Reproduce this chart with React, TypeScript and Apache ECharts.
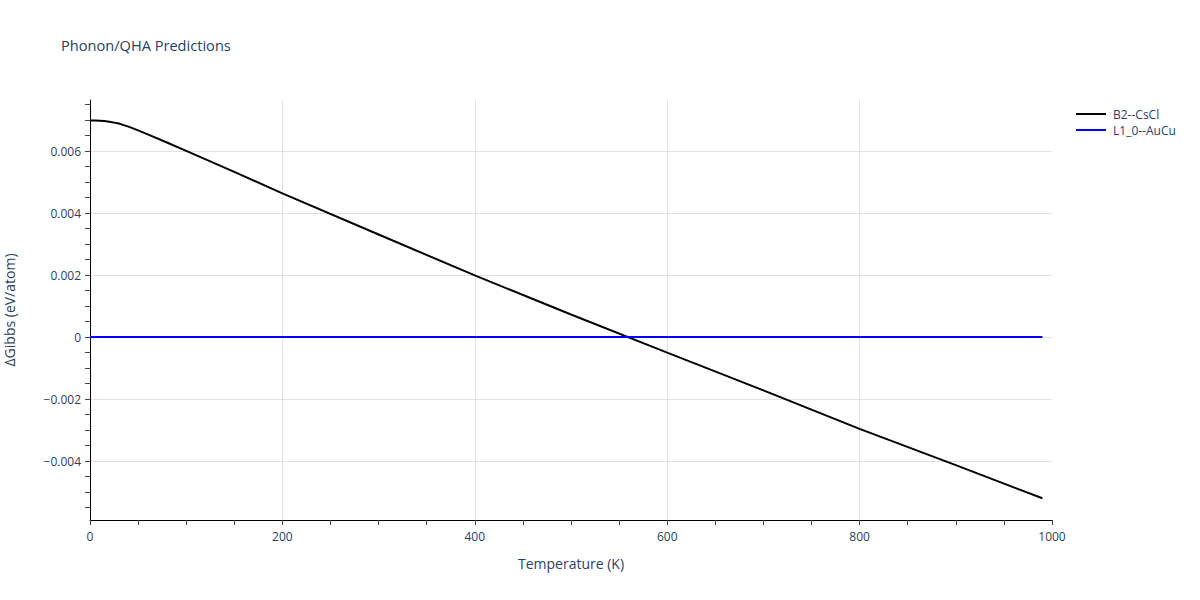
import React, { useEffect, useRef } from "react";
import * as echarts from "echarts";

const temperatures = [0, 5, 10, 15, 20, 25, 30, 35, 40, 50, 60, 80, 100, 150, 200, 300, 400, 500, 600, 700, 800, 900, 990];
const b2Values = [0.00699, 0.00699, 0.00698, 0.00697, 0.00695, 0.00692, 0.00689, 0.00684, 0.00679, 0.00667, 0.00654, 0.00628, 0.00601, 0.00533, 0.00464, 0.00331, 0.00199, 0.00073, -0.00050, -0.00172, -0.00296, -0.00413, -0.00520];
const l10Values = [0, 0, 0, 0, 0, 0, 0, 0, 0, 0, 0, 0, 0, 0, 0, 0, 0, 0, 0, 0, 0, 0, 0];
const seriesNames = ["B2--CsCl", "L1_0--AuCu"];
const yLabelValues = [-0.004, -0.002, 0, 0.002, 0.004, 0.006];
const yTickValues = [-0.0055, -0.005, -0.0045, -0.004, -0.0035, -0.003, -0.0025, -0.002, -0.0015, -0.001, -0.0005, 0, 0.0005, 0.001, 0.0015, 0.002, 0.0025, 0.003, 0.0035, 0.004, 0.0045, 0.005, 0.0055, 0.006, 0.0065, 0.007, 0.0075];
const yMin = -0.0059;
const yMax = 0.00765;

const textColor = "#2a3f5f";
const font = "'Open Sans', 'Noto Sans', sans-serif";

export default function App() {
  const ref = useRef<HTMLDivElement>(null);
  useEffect(() => {
    if (!ref.current) return;
    const chart = echarts.init(ref.current, null, { renderer: "svg" });
    const fmt = (v: number) => {
      if (Math.abs(v) < 1e-12) return "0";
      const s = Math.abs(v).toFixed(3);
      return v < 0 ? "\u2212" + s : s;
    };
    chart.setOption({
      animation: false,
      backgroundColor: "#ffffff",
      textStyle: { fontFamily: font },
      title: {
        text: "Phonon/QHA Predictions",
        left: 56,
        top: 32,
        textStyle: { fontFamily: font, fontSize: 14.6, fontWeight: "normal", color: textColor },
      },
      legend: {
        data: seriesNames,
        orient: "vertical",
        left: 1071,
        top: 103,
        icon: "rect",
        itemWidth: 30,
        itemHeight: 2,
        itemGap: 4,
        textStyle: { fontFamily: font, fontSize: 12, color: textColor, padding: [0, 0, 0, 2] },
      },
      grid: { left: 90, right: 148, top: 100, bottom: 80, containLabel: false, outerBoundsMode: "none" },
      xAxis: {
        type: "value",
        min: 0,
        max: 1000,
        interval: 200,
        name: "Temperature (K)",
        nameLocation: "middle",
        nameGap: 36,
        nameTextStyle: { fontFamily: font, fontSize: 14, color: textColor },
        axisLine: { show: true, onZero: false, lineStyle: { color: "#000", width: 1 } },
        axisTick: { show: true, inside: false, length: 5, lineStyle: { color: "#444" } },
        minorTick: { show: true, splitNumber: 4, length: 5, lineStyle: { color: "#444" } },
        axisLabel: { fontFamily: font, fontSize: 12, color: textColor, margin: 10, formatter: (v: number) => String(v) },
        splitLine: { show: true, showMinLine: false, showMaxLine: false, lineStyle: { color: "#e1e1e1", width: 1 } },
      },
      yAxis: [
        {
          type: "value",
          position: "left",
          min: yMin,
          max: yMax,
          name: "\u0394Gibbs (eV/atom)",
          nameLocation: "middle",
          nameGap: 74,
          nameTextStyle: { fontFamily: font, fontSize: 14, color: textColor },
          axisLine: { show: false, onZero: false },
          axisTick: { show: false, customValues: yLabelValues },
          axisLabel: { fontFamily: font, fontSize: 12, color: textColor, margin: 9, customValues: yLabelValues, formatter: fmt },
          splitLine: { show: true, showMinLine: true, showMaxLine: true, lineStyle: { color: "#e1e1e1", width: 1 } },
        },
        {
          type: "value",
          position: "left",
          offset: 0,
          min: yMin,
          max: yMax,
          axisLine: { show: true, onZero: false, lineStyle: { color: "#000", width: 1 } },
          axisTick: { show: true, inside: false, length: 5, customValues: yTickValues, lineStyle: { color: "#444" } },
          axisLabel: { show: false },
          splitLine: { show: false },
        },
      ],
      series: [
        {
          name: seriesNames[0],
          type: "line",
          yAxisIndex: 0,
          data: temperatures.map((t, i) => [t, b2Values[i]]),
          showSymbol: false,
          symbol: "none",
          lineStyle: { color: "#000000", width: 2 },
          itemStyle: { color: "#000000" },
          z: 3,
        },
        {
          name: seriesNames[1],
          type: "line",
          yAxisIndex: 0,
          data: temperatures.map((t, i) => [t, l10Values[i]]),
          showSymbol: false,
          symbol: "none",
          lineStyle: { color: "#0000ff", width: 2 },
          itemStyle: { color: "#0000ff" },
          z: 4,
        },
      ],
    });
    return () => chart.dispose();
  }, []);
  return <div ref={ref} style={{ width: 1200, height: 600, position: "absolute", left: 0, top: 0 }} />;
}
